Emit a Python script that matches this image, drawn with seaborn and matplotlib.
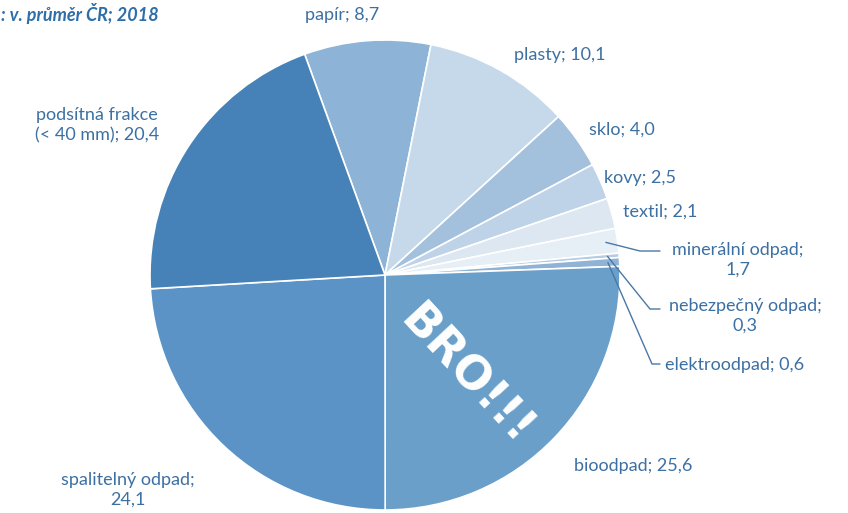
import matplotlib
matplotlib.use("Agg")
import matplotlib.pyplot as plt
import seaborn as sns
import numpy as np

categories = ["papír", "plasty", "sklo", "kovy", "textil", "minerální odpad",
              "nebezpečný odpad", "elektroodpad", "bioodpad", "spalitelný odpad",
              "podsítná frakce\n(< 40 mm)"]
values = [8.7, 10.1, 4.0, 2.5, 2.1, 1.7, 0.3, 0.6, 25.6, 24.1, 20.4]
value_labels = ["8,7", "10,1", "4,0", "2,5", "2,1", "1,7", "0,3", "0,6", "25,6", "24,1", "20,4"]
colors = ["#8db3d6", "#c6d9ea", "#a3c0dd", "#bed2e8", "#dce7f2", "#e6eef6",
          "#b5cce4", "#8fb2d5", "#6a9fca", "#5b93c6", "#4682b8"]
title = ": v. průměr ČR; 2018"

sns.set_theme(style="white")
plt.rcParams['font.family'] = ['Lato', 'DejaVu Sans']

W, H = 848, 513
fig = plt.figure(figsize=(W / 100, H / 100), dpi=100)
ax = fig.add_axes([0, 0, 1, 1])

cx, cy, R = 385, 275, 235
wedges, _ = ax.pie(values, colors=colors, startangle=110, counterclock=False,
                   wedgeprops=dict(edgecolor="white", linewidth=1.2))

def px(x, y):
    return ((x - cx) / R, (cy - y) / R)

ax.set_xlim(-cx / R, (W - cx) / R)
ax.set_ylim(-(H - cy) / R, cy / R)
ax.set_aspect('auto')
ax.axis('off')

txt_color = "#3c70a3"
fs = 13

# label positions (pixels)
label_pos = {
    0: (342, 15),
    1: (560, 55),
    2: (622, 130),
    3: (640, 178),
    4: (660, 212),
    8: (633, 466),
    9: (128, 490),
    10: (97, 125),
}
for i, (x, y) in label_pos.items():
    name = categories[i]
    if i == 9:
        s = name + ";\n" + value_labels[i]
    else:
        s = name + "; " + value_labels[i]
    ax.text(*px(x, y), s, ha="center", va="center", fontsize=fs, color=txt_color,
            linespacing=1.3)

# small slices with leader lines
leader = {
    5: ((738, 260), "minerální odpad;\n1,7", [(640, 251), (660, 251)]),
    6: ((745, 316), "nebezpečný odpad;\n0,3", [(650, 309), (660, 309)]),
    7: ((735, 365), "elektroodpad; 0,6", [(652, 364), (660, 364)]),
}
line_color = "#4a78a6"
for i, (tpos, s, pts) in leader.items():
    w = wedges[i]
    mid = np.deg2rad((w.theta1 + w.theta2) / 2)
    r0 = 0.95
    start = (r0 * np.cos(mid), r0 * np.sin(mid))
    xs = [start[0]] + [px(*p)[0] for p in pts]
    ys = [start[1]] + [px(*p)[1] for p in pts]
    ax.plot(xs, ys, color=line_color, lw=1.0)
    ax.text(*px(*tpos), s, ha="center", va="center", fontsize=fs,
            color=txt_color, linespacing=1.3)

ax.text(*px(1, 14), title, ha="left", va="center", fontsize=13,
        fontweight="bold", fontstyle="italic", color="#2f6ea8")

ax.text(*px(466, 376), "BRO!!!", ha="center", va="center", fontsize=33,
        fontweight="bold", color="white", rotation=-47, family="DejaVu Sans",
        rotation_mode="anchor")

fig.savefig("out.png", dpi=100)
